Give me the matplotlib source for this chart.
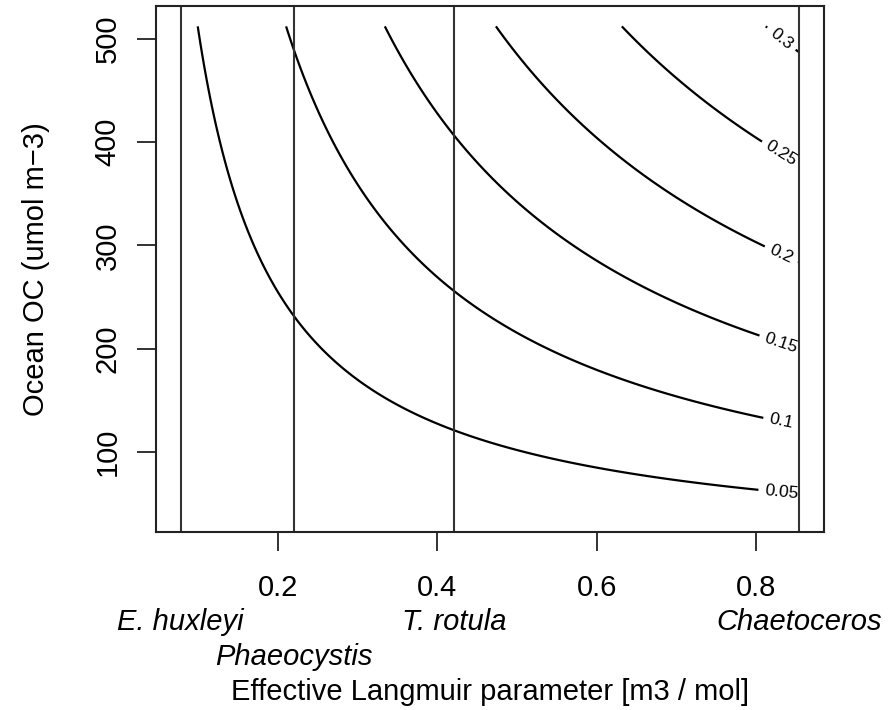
import numpy as np
import matplotlib
matplotlib.use("Agg")
import matplotlib.pyplot as plt
from matplotlib.transforms import blended_transform_factory

plt.rcParams['font.family'] = ['Liberation Sans', 'DejaVu Sans']

# ---- data ----
levels = [0.05, 0.10, 0.15, 0.20, 0.25, 0.30]       # contour levels (labels)
p_half = 970.0                                       # x*y value where coverage = 0.5
x_range = [0.05, 0.854]                              # extent of the contoured grid
y_range = [42.0, 512.0]

species = ["E. huxleyi", "Phaeocystis", "T. rotula", "Chaetoceros"]
species_x = [0.0784, 0.2204, 0.421, 0.854]
species_row = [0, 1, 0, 0]

xticks = [0.2, 0.4, 0.6, 0.8]
yticks = [100, 200, 300, 400, 500]
xlim = [0.047, 0.885]
ylim = [22.8, 531.7]
label_x = 0.831                                      # where the contour labels sit

# ---- field ----
gx = np.linspace(x_range[0], x_range[1], 500)
gy = np.linspace(y_range[0], y_range[1], 500)
X, Y = np.meshgrid(gx, gy)
P = X * Y
Z = P / (P + p_half)

fig = plt.figure(figsize=(8.96, 7.10), dpi=100)
ax = fig.add_axes([155.7 / 896, 1 - 532 / 710, (824 - 155.7) / 896, (532 - 6) / 710])

cs = ax.contour(X, Y, Z, levels=levels, colors='black', linewidths=1.6)

manual = []
for segs in cs.allsegs:
    pts = np.vstack([s for s in segs if len(s)])
    i = np.argmin(np.abs(pts[:, 0] - label_x))
    manual.append((pts[i, 0], pts[i, 1]))
ax.clabel(cs, levels=levels, fmt=lambda v: f"{v:g}", fontsize=12.5,
          inline=True, inline_spacing=7, manual=manual)

for sx in species_x:
    ax.axvline(sx, color='#333333', lw=1.5)

ax.set_xlim(xlim)
ax.set_ylim(ylim)
ax.set_xticks(xticks)
ax.set_xticklabels([f"{t:g}" for t in xticks])
ax.set_yticks(yticks)
ax.set_yticklabels([str(t) for t in yticks], rotation=90, va='center')
ax.tick_params(axis='both', direction='out', length=13.5, width=1.3, labelsize=21,
               color='#222222')
ax.tick_params(axis='x', pad=17)
ax.tick_params(axis='y', pad=11)
for s in ax.spines.values():
    s.set_linewidth(1.5)
    s.set_color('#222222')

trans = blended_transform_factory(ax.transData, ax.transAxes)
for name, sx, row in zip(species, species_x, species_row):
    ax.annotate(name, xy=(sx, 0), xycoords=trans,
                xytext=(0, -64.6 - 25.2 * row), textcoords='offset points',
                ha='center', va='center', fontsize=21, style='italic')

ax.annotate("Effective Langmuir parameter [m3 / mol]", xy=(0.5, 0), xycoords='axes fraction',
            xytext=(0, -115), textcoords='offset points', ha='center', va='center', fontsize=21)
fig.text(36 / 896, 1 - 269 / 710, "Ocean OC (umol m\u22123)", rotation=90,
         ha='center', va='center', fontsize=21)

fig.savefig("out.png", dpi=100)
